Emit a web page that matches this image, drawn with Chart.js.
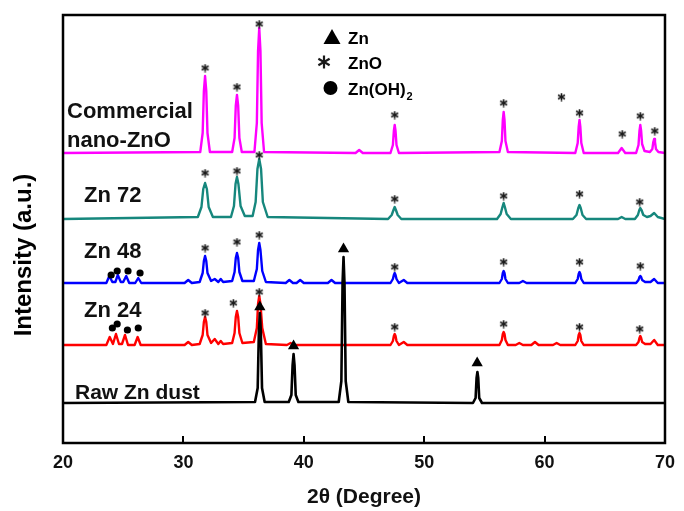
<!DOCTYPE html>
<html><head><meta charset="utf-8">
<script src="https://cdn.jsdelivr.net/npm/chart.js@4"></script>
<style>html,body{margin:0;padding:0;background:#fff}canvas{display:block}</style>
</head><body>
<canvas id="c" width="684" height="511"></canvas>
<script>
// ---------------- DATA (2θ in degrees, intensity in a.u.) ----------------
const seriesNames = ['Commercial nano-ZnO', 'Zn 72', 'Zn 48', 'Zn 24', 'Raw Zn dust'];
const offsets = [290, 224, 160, 98, 40];

const commX = [20,
  31.4, 31.6, 31.7, 31.8, 31.9, 32.0, 32.2,
  34.05, 34.25, 34.35, 34.45, 34.55, 34.65, 34.85,
  35.9, 36.1, 36.2, 36.3, 36.4, 36.5, 36.7,
  44.3, 44.6, 44.9,
  47.2, 47.4, 47.48, 47.55, 47.62, 47.7, 47.9,
  56.25, 56.45, 56.53, 56.6, 56.67, 56.75, 56.95,
  62.55, 62.75, 62.83, 62.9, 62.97, 63.05, 63.25,
  66.1, 66.4, 66.7,
  67.6, 67.8, 67.88, 67.95, 68.02, 68.1, 68.3,
  68.75, 68.95, 69.03, 69.1, 69.17, 69.25, 69.45,
  70];
const commY = [0,
  1, 20, 62, 77, 62, 20, 1,
  1, 15, 47, 58, 47, 15, 1,
  1, 30, 102, 125, 102, 30, 1,
  0, 3, 0,
  0, 8, 22, 28, 22, 8, 0,
  1, 12, 33, 41, 33, 12, 1,
  0, 10, 26, 33, 26, 10, 0,
  0, 5, 0,
  0, 8, 22, 28, 22, 9, 2,
  1, 4, 11, 14, 11, 4, 1,
  0];

const z72X = [20,
  31.2, 31.5, 31.65, 31.8, 31.95, 32.1, 32.45,
  33.95, 34.2, 34.33, 34.45, 34.57, 34.75, 35.1,
  35.75, 36.0, 36.15, 36.3, 36.45, 36.6, 37.0,
  47.0, 47.3, 47.45, 47.55, 47.65, 47.8, 48.1,
  56.05, 56.35, 56.5, 56.6, 56.7, 56.85, 57.2,
  62.35, 62.65, 62.8, 62.9, 63.0, 63.15, 63.45,
  66.1, 66.4, 66.7,
  67.5, 67.75, 67.87, 67.95, 68.05, 68.2, 68.5,
  68.8, 69.1, 69.4, 70];
const z72Y = [0,
  2, 12, 30, 36, 30, 12, 2,
  2, 13, 35, 42, 35, 13, 3,
  3, 17, 50, 60, 50, 17, 2,
  0, 4, 9, 12, 9, 4, 0,
  0, 5, 12, 16, 12, 5, 0,
  0, 4, 11, 14, 11, 4, 0,
  0, 2, 0,
  0, 4, 9, 11, 9, 4, 2,
  3, 6, 2, 0];

const z48X = [20,
  23.6, 23.85, 24.1, 24.35, 24.55, 24.8, 25.0, 25.25, 25.5, 26.0, 26.25, 26.5,
  30.1, 30.4, 30.7,
  31.35, 31.6, 31.7, 31.8, 31.9, 32.0, 32.3,
  32.6, 32.9, 33.1, 33.3,
  34.05, 34.25, 34.35, 34.45, 34.55, 34.65, 34.9,
  35.85, 36.1, 36.2, 36.3, 36.4, 36.55, 36.85,
  38.5, 38.8, 39.1, 39.4, 39.7, 40.0,
  42.0, 42.3, 42.6,
  47.2, 47.4, 47.48, 47.55, 47.62, 47.7, 47.9, 48.3, 48.6,
  56.25, 56.45, 56.53, 56.6, 56.67, 56.75, 56.95,
  57.9, 58.2, 58.5,
  62.55, 62.75, 62.83, 62.9, 62.97, 63.05, 63.25,
  67.6, 67.8, 67.88, 67.95, 68.02, 68.1, 68.35,
  68.8, 69.1, 69.4, 70];
const z48Y = [0,
  0, 7, 1, 1, 8, 1, 1, 7, 0, 0, 5, 0,
  0, 3, 0,
  1, 10, 22, 27, 22, 10, 2,
  4, 1, 4, 1,
  2, 11, 25, 30, 25, 11, 2,
  2, 14, 33, 40, 33, 12, 1,
  0, 3, 0, 0, 3, 0,
  0, 3, 0,
  0, 4, 8, 10, 8, 4, 0, 3, 0,
  0, 4, 10, 12, 10, 4, 0,
  0, 2, 0,
  0, 4, 9, 11, 9, 4, 0,
  0, 3, 6, 7, 6, 3, 1,
  1, 4, 0, 0];

const z24X = [20,
  23.6, 23.88, 24.15, 24.4, 24.65, 24.9, 25.15, 25.4, 25.95, 26.2, 26.45,
  30.1, 30.4, 30.7,
  31.35, 31.6, 31.7, 31.8, 31.9, 32.0, 32.3,
  32.6, 32.9, 33.1, 33.3,
  34.05, 34.25, 34.35, 34.45, 34.55, 34.65, 34.9,
  35.85, 36.1, 36.2, 36.3, 36.4, 36.55, 36.85,
  38.6, 38.9, 39.2,
  47.2, 47.4, 47.48, 47.55, 47.62, 47.7, 47.9, 48.3, 48.6,
  56.25, 56.45, 56.53, 56.6, 56.67, 56.75, 56.95,
  57.6, 57.9, 58.2, 58.9, 59.2, 59.5, 60.7, 61.0, 61.3,
  62.55, 62.75, 62.83, 62.9, 62.97, 63.05, 63.25,
  67.6, 67.8, 67.88, 67.95, 68.02, 68.1, 68.35,
  68.8, 69.1, 69.4, 70];
const z24Y = [0,
  0, 8, 1, 11, 1, 1, 10, 0, 0, 8, 0,
  0, 3, 0,
  1, 10, 23, 28, 23, 10, 2,
  6, 1, 4, 1,
  2, 12, 28, 34, 28, 12, 2,
  3, 17, 41, 49, 41, 17, 1,
  0, 2, 0,
  0, 4, 9, 11, 9, 4, 0, 3, 0,
  0, 5, 11, 13, 11, 5, 0,
  0, 2, 0, 0, 3, 0, 0, 2, 0,
  0, 4, 10, 12, 10, 4, 0,
  0, 3, 7, 9, 7, 3, 1,
  1, 5, 0, 0];

const rawX = [20,
  35.95, 36.17, 36.27, 36.35, 36.43, 36.53, 36.75,
  38.75, 38.97, 39.07, 39.15, 39.23, 39.33, 39.55,
  42.9, 43.12, 43.22, 43.3, 43.38, 43.48, 43.7,
  54.05, 54.27, 54.35, 54.42, 54.49, 54.57, 54.8,
  70];
const rawY = [0,
  1, 15, 72, 90, 72, 15, 1,
  1, 8, 38, 49, 38, 8, 1,
  1, 22, 120, 146, 120, 22, 1,
  0, 5, 25, 31, 25, 5, 0,
  0];

// phase markers (absolute a.u. on the stacked scale)
const starX = [31.8, 34.45, 36.3, 47.55, 56.6, 61.4, 62.9, 66.45, 67.95, 69.15,
               31.8, 34.45, 36.3, 47.55, 56.6, 62.9, 67.9,
               31.8, 34.45, 36.3, 47.55, 56.6, 62.9, 67.95,
               31.8, 34.15, 36.3, 47.55, 56.6, 62.9, 67.9];
const starY = [375, 356, 419, 328, 340, 346, 330, 309, 327, 312,
               270, 272, 288, 244, 247, 249, 241,
               195, 201, 208, 176, 181, 181, 177,
               130, 140, 151, 116, 119, 116, 114];
const triX = [36.35, 39.15, 43.3, 54.4];
const triY = [136, 97, 194, 80];
const dotX = [24.0, 24.5, 25.4, 26.4, 24.1, 24.5, 25.35, 26.25];
const dotY = [168, 172, 172, 170, 115, 119, 113, 115];

const xTicks = [20, 30, 40, 50, 60, 70];
const legendLabels = ['Zn', 'ZnO', 'Zn(OH)'];

// ---------------- CHART ----------------
const FONT = '"Liberation Sans", Arial, Helvetica, sans-serif';
function pts(xs, ys, off) { return xs.map((x, i) => ({x: x, y: ys[i] + off})); }

function makeStar(size, lw) {
  const c = document.createElement('canvas');
  c.width = size; c.height = size;
  const g = c.getContext('2d');
  g.strokeStyle = '#1a1a1a'; g.lineWidth = lw;
  const r = size / 2 - 0.5, cx = size / 2, cy = size / 2;
  [90, 30, 150].forEach(a => {
    const t = a * Math.PI / 180;
    g.beginPath();
    g.moveTo(cx - r * Math.cos(t), cy - r * Math.sin(t));
    g.lineTo(cx + r * Math.cos(t), cy + r * Math.sin(t));
    g.stroke();
  });
  return c;
}
const starImg = makeStar(9, 1.6);
const starBig = makeStar(14, 2.2);

function line(data, color, w) {
  return {type: 'line', data: data, borderColor: color, borderWidth: w, pointRadius: 0,
          tension: 0, fill: false, borderJoinStyle: 'round'};
}

const decor = {
  id: 'decor',
  afterDraw(chart) {
    const ctx = chart.ctx, a = chart.chartArea, xs = chart.scales.x;
    ctx.save();
    // frame
    ctx.strokeStyle = '#000'; ctx.lineWidth = 2.5;
    ctx.strokeRect(a.left, a.top, a.right - a.left, a.bottom - a.top);
    // inward ticks
    ctx.lineWidth = 2;
    xTicks.slice(1, -1).forEach(v => {
      const px = Math.round(xs.getPixelForValue(v));
      ctx.beginPath(); ctx.moveTo(px, a.bottom); ctx.lineTo(px, a.bottom - 7); ctx.stroke();
    });
    // series labels
    ctx.fillStyle = '#111';
    ctx.textAlign = 'left'; ctx.textBaseline = 'alphabetic';
    ctx.font = 'bold 22px ' + FONT;
    const parts = seriesNames[0].split(' ');
    ctx.fillText(parts[0], 67, 118);
    ctx.fillText(parts[1], 67, 147);
    ctx.fillText(seriesNames[1], 84, 202);
    ctx.fillText(seriesNames[2], 84, 258);
    ctx.fillText(seriesNames[3], 84, 317);
    ctx.font = 'bold 21px ' + FONT;
    ctx.fillText(seriesNames[4], 75, 399);
    // legend
    ctx.fillStyle = '#000';
    ctx.beginPath(); ctx.moveTo(332, 29); ctx.lineTo(340.5, 44); ctx.lineTo(323.5, 44); ctx.closePath(); ctx.fill();
    ctx.drawImage(starBig, 317, 55);
    ctx.beginPath(); ctx.arc(330.5, 88, 7, 0, Math.PI * 2); ctx.fill();
    ctx.font = 'bold 17px ' + FONT;
    ctx.fillText(legendLabels[0], 348, 44);
    ctx.fillText(legendLabels[1], 348, 69);
    ctx.fillText(legendLabels[2], 348, 95);
    const w = ctx.measureText(legendLabels[2]).width;
    ctx.font = 'bold 11px ' + FONT;
    ctx.fillText('2', 348 + w + 1, 100);
    // y title
    ctx.translate(24, 255); ctx.rotate(-Math.PI / 2);
    ctx.textAlign = 'center'; ctx.textBaseline = 'middle';
    ctx.font = 'bold 24px ' + FONT;
    ctx.fillText('Intensity (a.u.)', 0, 0);
    ctx.restore();
  }
};

new Chart(document.getElementById('c'), {
  type: 'line',
  data: {
    datasets: [
      {type: 'scatter', data: pts(starX, starY, 0), pointStyle: starImg, pointRadius: 4, showLine: false},
      {type: 'scatter', data: pts(triX, triY, 0), pointStyle: 'triangle', pointRadius: 6.5,
       backgroundColor: '#000', borderColor: '#000', borderWidth: 0, showLine: false},
      {type: 'scatter', data: pts(dotX, dotY, 0), pointStyle: 'circle', pointRadius: 3.6,
       backgroundColor: '#000', borderColor: '#000', borderWidth: 0, showLine: false},
      line(pts(rawX, rawY, offsets[4]), '#000000', 2.6),
      line(pts(z24X, z24Y, offsets[3]), '#ff0000', 2.4),
      line(pts(z48X, z48Y, offsets[2]), '#0000ff', 2.4),
      line(pts(z72X, z72Y, offsets[1]), '#16877d', 2.4),
      line(pts(commX, commY, offsets[0]), '#ff00ff', 2.4)
    ]
  },
  options: {
    responsive: false, animation: false, devicePixelRatio: 1,
    layout: {padding: {left: 63, right: 13, top: 15, bottom: 0}, autoPadding: false},
    plugins: {legend: {display: false}, tooltip: {enabled: false}},
    scales: {
      x: {
        type: 'linear', position: 'bottom', min: 20, max: 70,
        afterBuildTicks: s => { s.ticks = xTicks.map(v => ({value: v})); },
        ticks: {color: '#111', font: {family: FONT, size: 18, weight: 'bold'}, padding: 9, maxRotation: 0, autoSkip: false},
        grid: {display: false, drawTicks: false},
        border: {display: false},
        title: {display: true, text: '2θ (Degree)', color: '#111',
                font: {family: FONT, size: 21, weight: 'bold'}, padding: {top: 0, bottom: 1}},
        afterFit: s => { s.height = 68; }
      },
      y: {display: false, min: 0, max: 428}
    }
  },
  plugins: [decor]
});
</script>
</body></html>
